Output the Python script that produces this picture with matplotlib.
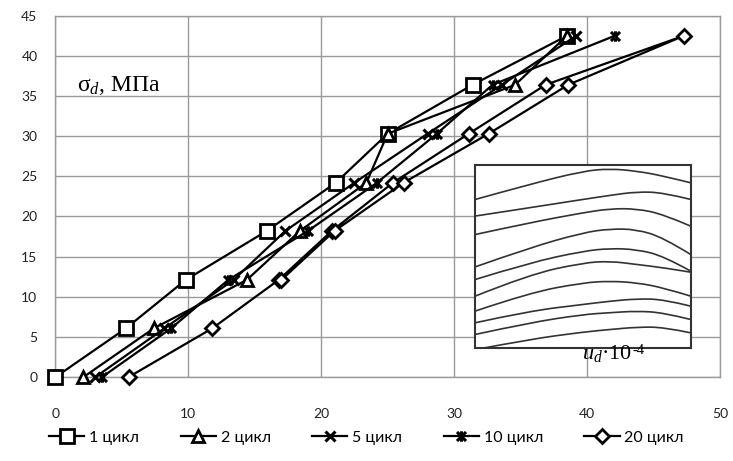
import matplotlib
matplotlib.use("Agg")
import matplotlib.pyplot as plt
from matplotlib.path import Path
import matplotlib.patches as mpatches

plt.rcParams['font.family'] = ['Lato', 'DejaVu Sans']
plt.rcParams['mathtext.fontset'] = 'custom'
plt.rcParams['mathtext.rm'] = 'Liberation Serif'
plt.rcParams['mathtext.it'] = 'Liberation Serif:italic'

# ---- data ----
stress = [0, 6.07, 12.1, 18.2, 24.2, 30.3, 36.4, 42.5]
u_cycle1 = [0, 5.3, 9.8, 15.9, 21.1, 25.0, 31.4, 38.5]
u_cycle2 = [2.1, 7.4, 14.4, 18.4, 23.4, 25.0, 34.6, 38.5]
u_cycle5 = [3.0, 8.2, 13.4, 17.3, 22.5, 28.0, 33.6, 39.2]
u_cycle10 = [3.5, 8.7, 13.0, 19.0, 24.2, 28.7, 32.9, 42.1]
u_cycle20 = [5.5, 11.8, 16.8, 20.8, 25.4, 31.1, 36.9, 47.3, 38.6, 32.6, 26.2, 21.0, 17.0]
stress20 = [0, 6.07, 12.1, 18.2, 24.2, 30.3, 36.4, 42.5, 36.4, 30.3, 24.2, 18.2, 12.1]
labels = ["1 цикл", "2 цикл", "5 цикл", "10 цикл", "20 цикл"]

# inset picture (positions in % of the inset box)
inset_u = [0, 25, 50, 62.5, 75, 87.5, 100]
inset_curves = [
    [81.2, 89.4, 96.7, 98.0, 96.7, 94.0, 90.3],
    [72.1, 76.6, 81.2, 83.4, 85.4, 84.9, 81.2],
    [62.0, 68.4, 73.9, 76.1, 76.1, 73.0, 66.6],
    [44.3, 54.7, 63.0, 65.1, 64.8, 60.2, 51.1],
    [37.4, 46.5, 52.9, 54.4, 53.8, 50.2, 42.0],
    [28.3, 40.1, 46.5, 47.4, 45.6, 43.8, 41.4],
    [20.1, 30.1, 35.6, 36.5, 35.6, 32.8, 28.3],
    [13.7, 20.1, 23.7, 25.5, 26.8, 26.5, 22.8],
    [7.3, 13.7, 18.2, 19.2, 20.1, 19.2, 15.5],
    [-1.0, 4.6, 8.6, 10.0, 11.3, 11.3, 8.2],
]

star = Path([(-1, -1), (1, 1), (-1, 1), (1, -1), (0, -1.15), (0, 1.15)],
            [Path.MOVETO, Path.LINETO, Path.MOVETO, Path.LINETO, Path.MOVETO, Path.LINETO])

fig = plt.figure(figsize=(7.33, 4.61), dpi=100)
ax = fig.add_axes([0.0757, 0.182, 0.9063, 0.784])

common = dict(color='black', lw=1.6, mfc='white', mec='black', zorder=3, clip_on=False)
ax.plot(u_cycle1, stress, marker='s', ms=9.5, mew=2, label=labels[0], **common)
ax.plot(u_cycle2, stress, marker='^', ms=8.5, mew=2, label=labels[1], **common)
ax.plot(u_cycle5, stress, marker='x', ms=7, mew=2.2, label=labels[2], **common)
ax.plot(u_cycle10, stress, marker=star, ms=7.5, mew=2.2, label=labels[3], **common)
ax.plot(u_cycle20, stress20, marker='D', ms=7, mew=2, label=labels[4], **common)

ax.set_xlim(0, 50)
ax.set_ylim(0, 45)
ax.set_xticks(range(0, 51, 10))
ax.set_yticks(range(0, 46, 5))
ax.grid(True, color='#9a9a9a', lw=1)
ax.set_axisbelow(True)
for s in ax.spines.values():
    s.set_color('#9a9a9a')
    s.set_linewidth(1)
ax.tick_params(axis='both', length=0, labelsize=10, colors='#222222')
ax.tick_params(axis='x', pad=22)
ax.tick_params(axis='y', pad=13)

ax.text(1.6, 35.6, r"σ$_{d}$, МПа", fontsize=17, family='Liberation Serif', zorder=5)

# inset picture drawn with smooth curves through the read points
ins = ax.inset_axes([31.6, 3.65, 16.2, 22.75], transform=ax.transData, zorder=4)
for c in inset_curves:
    pts = list(zip(inset_u, c))
    verts = [pts[0]]
    codes = [Path.MOVETO]
    for i in range(1, len(pts) - 1):
        mid = ((pts[i][0] + pts[i + 1][0]) / 2, (pts[i][1] + pts[i + 1][1]) / 2)
        verts += [pts[i], mid if i < len(pts) - 2 else pts[i + 1]]
        codes += [Path.CURVE3, Path.CURVE3]
    ins.add_patch(mpatches.PathPatch(Path(verts, codes), fill=False, ec='#333333', lw=1.2))
ins.set_xlim(0, 100)
ins.set_ylim(0, 100)
ins.set_xticks([])
ins.set_yticks([])
ins.set_facecolor('white')
for s in ins.spines.values():
    s.set_color('#333333')
    s.set_linewidth(1.5)

t = ax.text(39.6, 2.3, r"$u_{d}$·10", fontsize=16, family='Liberation Serif', zorder=5)
ax.annotate("-4", xy=(1.0, 1.0), xycoords=t, xytext=(0.5, -1), textcoords='offset points',
            ha='left', va='top', fontsize=10.5, family='Liberation Serif', zorder=5)

fig.legend(loc='center', bbox_to_anchor=(0.5, 0.05), ncol=5, frameon=False,
           fontsize=11.5, handlelength=2.2, columnspacing=2.6, handletextpad=0.3)

fig.savefig("out.png", dpi=100)
